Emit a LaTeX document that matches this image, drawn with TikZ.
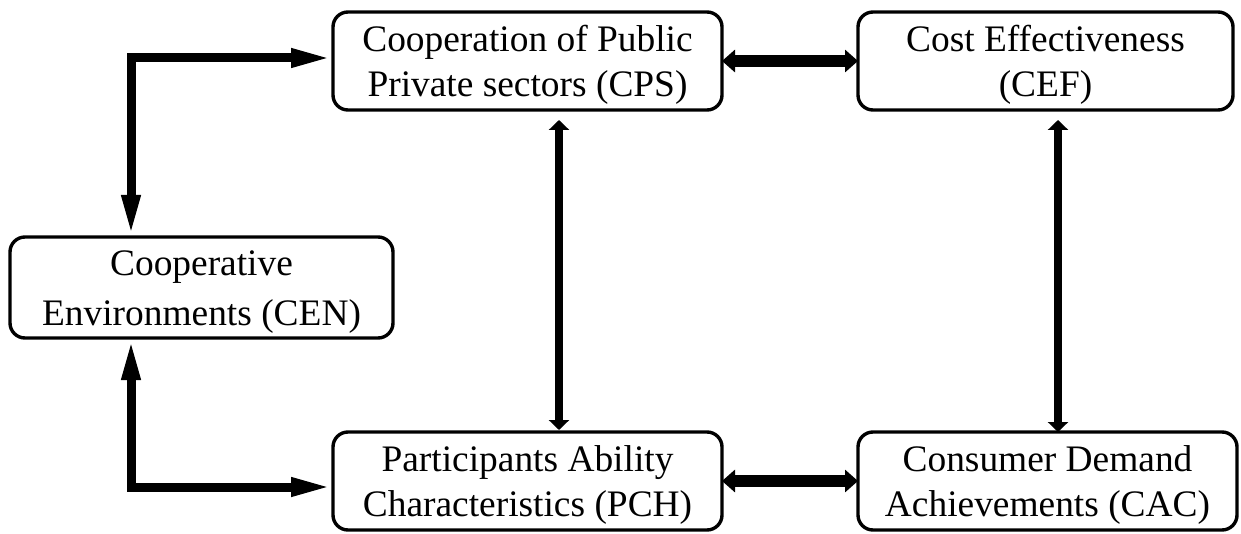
\documentclass[tikz,border=0pt]{standalone}
\usepackage{fontspec}
\setmainfont{Liberation Serif}
\usetikzlibrary{arrows.meta}
\newcommand{\tstrut}{\rule{0pt}{17pt}}
\begin{document}
\begin{tikzpicture}[x=0.5pt,y=-0.5pt,
  box/.style={draw, line width=1.7pt, rounded corners=7.5pt, align=center,
    inner sep=0pt, outer sep=0pt, font=\fontsize{18.7pt}{22.2pt}\selectfont},
  thickbi/.style={line width=6pt,
    {Triangle[length=6.5pt,width=11pt]}-{Triangle[length=6.5pt,width=11pt]}},
  vertbi/.style={line width=4pt,
    {Triangle[length=5pt,width=10pt]}-{Triangle[length=5pt,width=10pt]}},
  elbow/.style={line width=4.5pt, line join=miter,
    {Triangle[length=21pt,width=8.5pt]}-{Triangle[length=21pt,width=8.5pt]}}]
\useasboundingbox (0,0) rectangle (1241,534);
\fill[white] (0,0) rectangle (1241,534);

\node[box, minimum width=194.5pt, minimum height=49pt] (CPS) at (527.5,61)
  {\tstrut Cooperation of Public\\Private sectors (CPS)};
\node[box, minimum width=187.5pt, minimum height=49pt] (CEF) at (1045.5,61)
  {\tstrut Cost Effectiveness\\(CEF)};
\node[box, minimum width=191.5pt, minimum height=50.5pt,
  font=\fontsize{18.7pt}{25pt}\selectfont] (CEN) at (201.5,287.5)
  {\tstrut Cooperative\\Environments (CEN)};
\node[box, minimum width=194.5pt, minimum height=49pt] (PCH) at (527.5,481)
  {\tstrut Participants Ability\\Characteristics (PCH)};
\node[box, minimum width=189.5pt, minimum height=49pt] (CAC) at (1047.5,481)
  {\tstrut Consumer Demand\\Achievements (CAC)};

\coordinate (v1) at (559,0);
\coordinate (v2) at (1058,0);
\coordinate (c1) at (131,58);
\coordinate (c2) at (131,487);

\draw[thickbi] (CPS.east) -- (CEF.west);
\draw[thickbi] (PCH.east) -- (CAC.west);
\draw[vertbi, shorten <=5pt, shorten >=1pt] (CPS.south -| v1) -- (PCH.north -| v1);
\draw[vertbi, shorten <=5pt] (CEF.south -| v2) -- (CAC.north -| v2);
\draw[elbow] (CEN.north -| c1) -- (c1) -- (CPS.west |- c1);
\draw[elbow] (CEN.south -| c2) -- (c2) -- (PCH.west |- c2);
\end{tikzpicture}
\end{document}
